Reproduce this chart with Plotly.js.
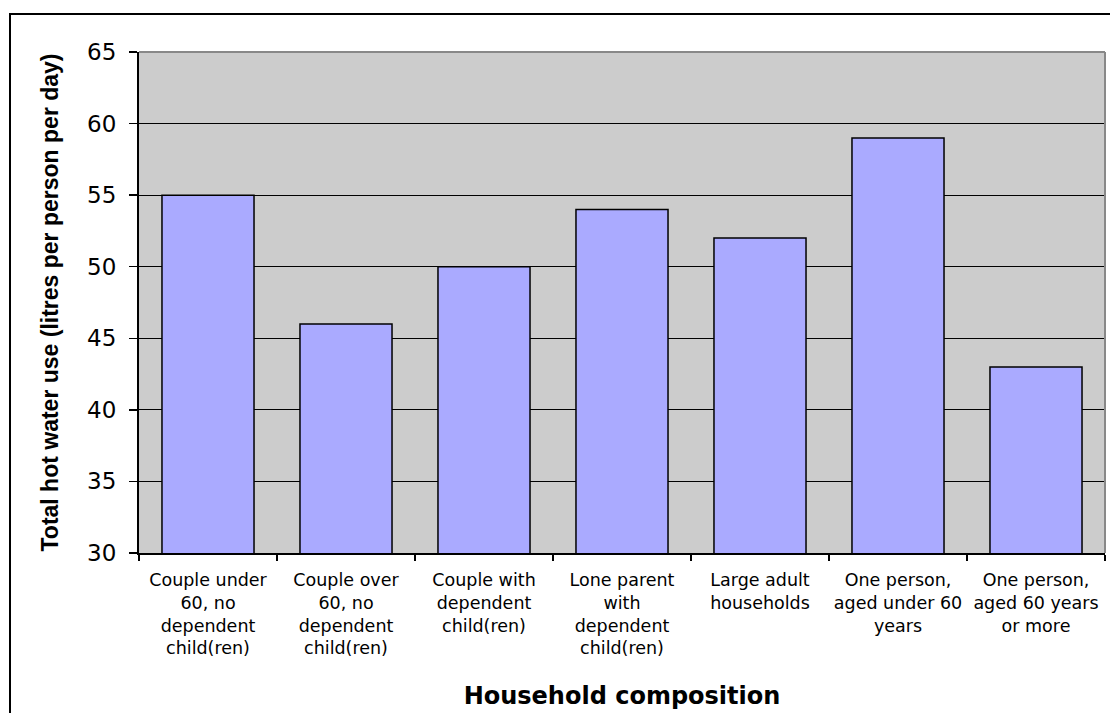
<!DOCTYPE html>
<html>
<head>
<meta charset="utf-8">
<script src="https://cdn.plot.ly/plotly-3.0.1.min.js"></script>
<style>
  html, body { margin: 0; padding: 0; background: #ffffff; }
  #frame { position: absolute; left: 9px; top: 13px; width: 1200px; height: 800px;
           border-left: 2px solid #000; border-top: 2px solid #000; box-sizing: border-box; }
  #chart { position: absolute; left: 0; top: 0; width: 1110px; height: 713px; }
</style>
</head>
<body>
<div id="frame"></div>
<div id="chart"></div>
<script>
const categories = [
  "Couple under<br>60, no<br>dependent<br>child(ren)",
  "Couple over<br>60, no<br>dependent<br>child(ren)",
  "Couple with<br>dependent<br>child(ren)",
  "Lone parent<br>with<br>dependent<br>child(ren)",
  "Large adult<br>households",
  "One person,<br>aged under 60<br>years",
  "One person,<br>aged 60 years<br>or more"
];
const hotWaterUse = [55, 46, 50, 54, 52, 59, 43];
const yTickValues = [30, 35, 40, 45, 50, 55, 60, 65];

const trace = {
  type: 'bar',
  x: categories,
  y: hotWaterUse,
  marker: { color: '#AAAAFF', line: { color: '#000000', width: 1.5 } },
  hoverinfo: 'x+y'
};

const layout = {
  width: 1110,
  height: 713,
  margin: { l: 139, r: 5, t: 52, b: 160 },
  paper_bgcolor: 'rgba(0,0,0,0)',
  plot_bgcolor: '#CCCCCC',
  bargap: 0.333,
  showlegend: false,
  xaxis: {
    type: 'category',
    showline: true, linecolor: '#000', linewidth: 2,
    ticks: 'outside', tickcolor: '#000', ticklen: 6, tickwidth: 1.5,
    tickson: 'boundaries',
    showgrid: false,
    ticklabelstandoff: 10,
    tickfont: { family: 'DejaVu Sans', size: 17.5, color: '#000' },
    title: { text: 'Household composition', standoff: 30,
             font: { family: 'DejaVu Sans', size: 24, color: '#000', weight: 'bold' } }
  },
  yaxis: {
    range: [30, 65],
    tickvals: yTickValues,
    showline: true, linecolor: '#000', linewidth: 2,
    ticks: 'outside', tickcolor: '#000', ticklen: 8, tickwidth: 1.5,
    showgrid: true, gridcolor: '#000', gridwidth: 1.2,
    zeroline: false,
    ticklabelstandoff: 8,
    tickfont: { family: 'DejaVu Sans', size: 23, color: '#000' },
    title: { text: 'Total hot water use (litres per person per day)', standoff: 22,
             font: { family: 'Liberation Sans', size: 23, color: '#000', weight: 'bold' } }
  },
  shapes: [
    { type: 'line', xref: 'paper', yref: 'paper', x0: 0, x1: 1, y0: 1, y1: 1,
      line: { color: '#888888', width: 2 }, layer: 'above' },
    { type: 'line', xref: 'paper', yref: 'paper', x0: 1, x1: 1, y0: 0, y1: 1,
      line: { color: '#888888', width: 2 }, layer: 'above' }
  ]
};

Plotly.newPlot('chart', [trace], layout, { displayModeBar: false, staticPlot: true });
</script>
</body>
</html>
